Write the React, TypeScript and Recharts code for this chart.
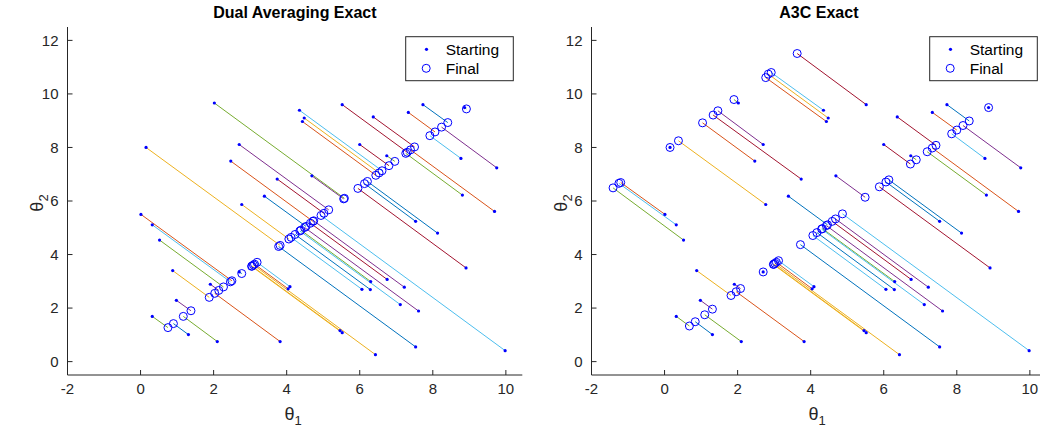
import React from "react";
import { ScatterChart, Scatter, XAxis, YAxis } from "recharts";

// MATLAB default line colours
const palette = ["#0072BD", "#D95319", "#EDB120", "#7E2F8E", "#77AC30", "#4DBEEE", "#A2142F"];

// colour index of each trajectory
const lineColor = [3, 4, 5, 2, 3, 1, 6, 0, 2, 1, 6, 6, 1, 0, 5, 3, 6, 4, 1, 5, 4, 2, 3, 4, 0, 4, 1, 3, 2, 1, 5, 0, 0, 4, 1, 6, 6, 3, 4, 5, 0, 5, 3, 0, 5, 2, 2, 2, 0, 4];

// starting points (same in both panels)
const startX = [4.69, 2.02, 4.35, 0.15, 2.7, 2.47, 3.74, 3.39, 4.48, 4.43, 5.52, 6.37, 7.33, 7.73, 8.77, 9.75, 6.0, 6.74, 0.01, 0.32, 0.52, 0.88, 0.98, 0.32, 1.31, 2.1, 3.82, 1.91, 2.77, 4.04, 4.09, 7.53, 8.13, 8.81, 9.69, 8.91, 6.75, 7.22, 6.3, 6.06, 6.29, 7.11, 7.61, 7.53, 9.98, 5.52, 5.46, 6.43, 2.7, 8.87];
const startY = [6.94, 9.66, 9.39, 8.0, 8.11, 7.49, 6.82, 6.18, 9.1, 8.97, 9.6, 9.14, 9.31, 9.6, 7.59, 7.24, 8.11, 7.69, 5.5, 5.11, 4.54, 3.4, 2.29, 1.69, 1.01, 0.75, 0.75, 2.89, 5.87, 2.72, 2.8, 5.24, 4.8, 6.22, 5.61, 3.5, 3.07, 2.78, 2.99, 2.7, 2.69, 2.13, 1.89, 0.55, 0.41, 1.08, 1.16, 0.26, 3.35, 9.49];

// final points, Dual Averaging Exact
const daFinalX = [5.56, 5.58, 6.61, 3.82, 5.15, 4.72, 5.02, 4.53, 6.53, 6.44, 7.3, 7.5, 8.06, 8.41, 7.92, 8.24, 6.8, 6.96, 2.5, 2.46, 2.27, 1.88, 1.38, 0.75, 0.9, 1.17, 2.03, 2.14, 4.06, 3.12, 3.19, 6.13, 6.21, 7.26, 7.39, 5.95, 4.65, 4.74, 4.39, 4.12, 4.23, 4.36, 4.49, 3.78, 4.94, 3.04, 3.05, 3.09, 2.77, 8.92];
const daFinalY = [6.08, 6.1, 7.13, 4.34, 5.67, 5.24, 5.54, 5.05, 7.05, 6.96, 7.82, 8.02, 8.58, 8.93, 8.44, 8.76, 7.32, 7.48, 3.02, 2.98, 2.79, 2.4, 1.9, 1.27, 1.42, 1.69, 2.55, 2.66, 4.58, 3.64, 3.71, 6.65, 6.73, 7.78, 7.91, 6.47, 5.17, 5.26, 4.91, 4.64, 4.75, 4.88, 5.01, 4.3, 5.46, 3.56, 3.57, 3.61, 3.29, 9.44];

// final points, A3C Exact
const a3cFinalX = [5.49, 1.9, 2.92, 0.15, 1.46, 1.04, 1.33, 4.46, 2.84, 2.77, 3.63, 7.43, 8.0, 8.34, 7.86, 8.17, 6.73, 6.89, -1.2, -1.25, -1.41, 1.82, 1.31, 0.68, 0.84, 1.1, 1.96, 2.08, 0.38, 3.06, 3.12, 6.06, 6.14, 7.19, 7.33, 5.88, 4.59, 4.68, 4.32, 4.06, 4.17, 4.3, 4.43, 3.72, 4.87, 2.98, 2.99, 3.02, 2.7, 8.87];
const a3cFinalY = [6.14, 9.79, 10.8, 8.0, 9.37, 8.92, 9.21, 5.11, 10.74, 10.61, 11.51, 8.08, 8.65, 8.99, 8.51, 8.82, 7.38, 7.54, 6.69, 6.66, 6.49, 2.47, 1.96, 1.33, 1.49, 1.75, 2.61, 2.73, 8.25, 3.71, 3.77, 6.71, 6.79, 7.84, 7.98, 6.53, 5.24, 5.33, 4.97, 4.71, 4.82, 4.95, 5.08, 4.37, 5.52, 3.63, 3.64, 3.67, 3.35, 9.49];

const xTicks = [-2, 0, 2, 4, 6, 8, 10];
const yTicks = [0, 2, 4, 6, 8, 10, 12];

const AXIS = "#262626";
const MARK = "#0000FF";
const FONT = "'Liberation Sans', Arial, sans-serif";

const StartDot = (p: any) => <circle cx={p.cx} cy={p.cy} r={1.6} fill={MARK} />;
const FinalRing = (p: any) => <circle cx={p.cx} cy={p.cy} r={4} fill="none" stroke={MARK} strokeWidth={1} />;
const NoMark = () => <g />;

function Panel({ left, title, finalX, finalY }: { left: number; title: string; finalX: number[]; finalY: number[] }) {
    const starts = startX.map((x, i) => ({ x, y: startY[i] }));
    const finals = finalX.map((x, i) => ({ x, y: finalY[i] }));
    const tickStyle = { fill: AXIS, fontSize: 15, fontFamily: FONT };

    return (
        <div style={{ position: "absolute", left, top: 0, width: 540, height: 433 }}>
            <ScatterChart width={540} height={433} margin={{ top: 27, right: 17.7, bottom: 28, left: 27.5 }}>
                <XAxis type="number" dataKey="x" domain={[-2, 10.45]} ticks={xTicks} interval={0} allowDataOverflow
                    height={30} stroke={AXIS} tickSize={-5} tickMargin={13} tick={tickStyle} />
                <XAxis xAxisId="top" orientation="top" type="number" dataKey="x" domain={[-2, 10.45]} ticks={xTicks}
                    interval={0} allowDataOverflow height={0} stroke={AXIS} tickSize={-5} tick={false} />
                <YAxis type="number" dataKey="y" domain={[-0.5, 12.5]} ticks={yTicks} interval={0} allowDataOverflow
                    width={40} stroke={AXIS} tickSize={-5} tickMargin={14} tick={tickStyle} />
                <YAxis yAxisId="right" orientation="right" type="number" dataKey="y" domain={[-0.5, 12.5]} ticks={yTicks}
                    interval={0} allowDataOverflow width={0} stroke={AXIS} tickSize={-5} tick={false} />
                {startX.map((x, i) => (
                    <Scatter
                        key={i}
                        data={[{ x, y: startY[i] }, { x: finalX[i], y: finalY[i] }]}
                        line={{ stroke: palette[lineColor[i]], strokeWidth: 1 }}
                        lineType="joint"
                        shape={NoMark}
                        isAnimationActive={false}
                    />
                ))}
                <Scatter data={finals} shape={FinalRing} isAnimationActive={false} />
                <Scatter data={starts} shape={StartDot} isAnimationActive={false} />
            </ScatterChart>
            <svg width={540} height={433} style={{ position: "absolute", left: 0, top: 0, pointerEvents: "none" }}
                fontFamily={FONT}>
                <text x={294.9} y={18} textAnchor="middle" fontSize={16} fontWeight="bold" fill="#000">{title}</text>
                <text x={293} y={420} textAnchor="middle" fontSize={18} fill={AXIS}>
                    θ<tspan dy={5} fontSize={13}>1</tspan>
                </text>
                <text transform="translate(43,203) rotate(-90)" textAnchor="middle" fontSize={18} fill={AXIS}>
                    θ<tspan dy={5} fontSize={13}>2</tspan>
                </text>
                <rect x={405.7} y={36.7} width={107.6} height={44} fill="#fff" stroke={AXIS} strokeWidth={1} />
                <circle cx={426.5} cy={49.3} r={1.6} fill={MARK} />
                <circle cx={426.2} cy={68.3} r={4} fill="none" stroke={MARK} strokeWidth={1} />
                <text x={445.7} y={54.5} fontSize={15.5} fill="#000">Starting</text>
                <text x={445.7} y={73.5} fontSize={15.5} fill="#000">Final</text>
            </svg>
        </div>
    );
}

export default function App() {
    return (
        <div style={{ position: "absolute", left: 0, top: 0, width: 1040, height: 433, overflow: "hidden", background: "#fff" }}>
            <Panel left={0} title="Dual Averaging Exact" finalX={daFinalX} finalY={daFinalY} />
            <Panel left={524.2} title="A3C Exact" finalX={a3cFinalX} finalY={a3cFinalY} />
        </div>
    );
}
